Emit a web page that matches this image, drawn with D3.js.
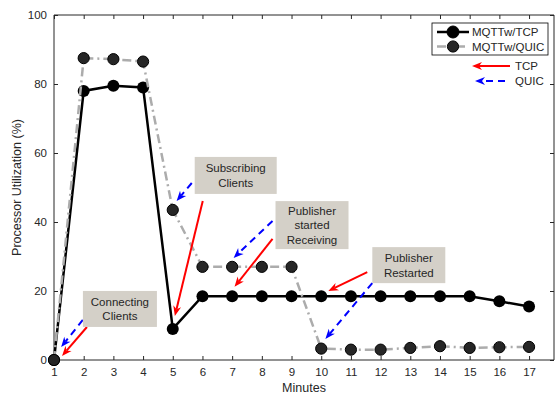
<!DOCTYPE html>
<html><head><meta charset="utf-8">
<script src="https://cdn.jsdelivr.net/npm/d3@7"></script>
<style>body{margin:0;background:#fff}svg{display:block}text{font-family:"Liberation Sans",Arial,sans-serif;fill:#262626}</style>
</head><body><svg id="c" width="557" height="396"></svg>
<script>
const minutes = [1,2,3,4,5,6,7,8,9,10,11,12,13,14,15,16,17];
const tcp  = [0,78,79.5,79,9,18.5,18.5,18.5,18.5,18.5,18.5,18.5,18.5,18.5,18.5,17,15.5];
const quic = [0,87.5,87.2,86.5,43.5,27,27,27,27,3.3,3,3,3.5,4,3.5,3.7,3.8];
const yTicks = [0,20,40,60,80,100];
const seriesNames = ["MQTTw/TCP","MQTTw/QUIC"];
// annotations: label lines, box centre in data units
const notes = [
  {lines:["Connecting","Clients"], x:3.22, y:14.8, w:74, h:36},
  {lines:["Subscribing","Clients"], x:7.12, y:53.5, w:82, h:37},
  {lines:["Publisher","started","Receiving"], x:9.69, y:39.1, w:73, h:48},
  {lines:["Publisher","Restarted"], x:12.95, y:27.5, w:73, h:36}
];
// arrows in data units: [x1,y1,x2,y2]
const tcpArrows = [[2.11,9.57,1.27,1.16],[6.01,46.1,5.07,12.75],[8.36,35.1,7.08,21.2],[11.55,25.5,10.24,20.0]];
const quicArrows = [[1.97,11.6,1.24,3.77],[5.64,51.3,5.13,46.1],[8.36,40.3,7.05,29.6],[11.72,22.3,10.14,6.1]];

const svg = d3.select("#c");
const L=54,R=554,T=15,B=360;
const x = d3.scaleLinear().domain([1,17.84]).range([L,R]);
const y = d3.scaleLinear().domain([0,100]).range([B,T]);
const axc="#262626";

// axes
const gx = svg.append("g").attr("transform",`translate(0,${B})`)
  .call(d3.axisBottom(x).tickValues(minutes).tickFormat(d3.format("d")).tickSizeInner(-4).tickSizeOuter(0).tickPadding(8));
const gxt = svg.append("g").attr("transform",`translate(0,${T})`)
  .call(d3.axisTop(x).tickValues(minutes).tickFormat("").tickSizeInner(-4).tickSizeOuter(0));
const gy = svg.append("g").attr("transform",`translate(${L},0)`)
  .call(d3.axisLeft(y).tickValues(yTicks).tickSizeInner(-4).tickSizeOuter(0).tickPadding(7));
const gyr = svg.append("g").attr("transform",`translate(${R},0)`)
  .call(d3.axisRight(y).tickValues(yTicks).tickFormat("").tickSizeInner(-4).tickSizeOuter(0));
[gx,gxt,gy,gyr].forEach(g=>{
  g.select(".domain").attr("stroke",axc).attr("stroke-width",1);
  g.selectAll(".tick line").attr("stroke",axc).attr("stroke-width",1);
  g.selectAll(".tick text").attr("font-size",11.5).attr("fill",axc).style("font-family",'"Liberation Sans",Arial,sans-serif');
});
gx.select(".domain").attr("d",`M${L},0H${R}`);
gxt.select(".domain").attr("d",`M${L},0H${R}`);
gy.select(".domain").attr("d",`M0,${B}V${T}`);
gyr.select(".domain").attr("d",`M0,${B}V${T}`);

svg.append("text").attr("x",(L+R)/2).attr("y",392).attr("text-anchor","middle").attr("font-size",12.5).text("Minutes");
svg.append("text").attr("transform",`translate(21,${(T+B)/2}) rotate(-90)`).attr("text-anchor","middle").attr("font-size",12.5).text("Processor Utilization (%)");

const line = d3.line().x((d,i)=>x(minutes[i])).y(d=>y(d));
// TCP
svg.append("path").datum(tcp).attr("d",line).attr("fill","none").attr("stroke","#000").attr("stroke-width",2.5);
svg.append("g").selectAll("circle").data(tcp).join("circle")
  .attr("cx",(d,i)=>x(minutes[i])).attr("cy",d=>y(d)).attr("r",6).attr("fill","#000");
// QUIC
svg.append("path").datum(quic).attr("d",line).attr("fill","none").attr("stroke","#acacac").attr("stroke-width",2.5).attr("stroke-dasharray","9,4,2,4");
svg.append("g").selectAll("circle").data(quic).join("circle")
  .attr("cx",(d,i)=>x(minutes[i])).attr("cy",d=>y(d)).attr("r",5.6).attr("fill","#262626").attr("stroke","#000").attr("stroke-width",1);

// arrows
function arrow(g,x1,y1,x2,y2,color,dashed){
  const dx=x2-x1, dy=y2-y1, len=Math.hypot(dx,dy), ux=dx/len, uy=dy/len;
  const hl=10, hw=4, back=7;
  const bx=x2-ux*hl, by=y2-uy*hl;
  const nx=-uy, ny=ux;
  const mx=x2-ux*back, my=y2-uy*back;
  g.append("line").attr("x1",x1).attr("y1",y1).attr("x2",mx).attr("y2",my)
    .attr("stroke",color).attr("stroke-width",2).attr("stroke-dasharray",dashed?"7,5":null);
  g.append("path").attr("d",`M${x2},${y2}L${bx+nx*hw},${by+ny*hw}L${mx},${my}L${bx-nx*hw},${by-ny*hw}Z`).attr("fill",color);
}
const ga = svg.append("g");
tcpArrows.forEach(a=>arrow(ga,x(a[0]),y(a[1]),x(a[2]),y(a[3]),"#ff0000",false));
quicArrows.forEach(a=>arrow(ga,x(a[0]),y(a[1]),x(a[2]),y(a[3]),"#0000ff",true));

// annotation boxes
notes.forEach(n=>{
  const cx=x(n.x), cy=y(n.y);
  svg.append("rect").attr("x",cx-n.w/2).attr("y",cy-n.h/2).attr("width",n.w).attr("height",n.h).attr("fill","#d4d0c8");
  const lh=14.5, y0=cy-(n.lines.length-1)*lh/2;
  n.lines.forEach((t,i)=>svg.append("text").attr("x",cx).attr("y",y0+i*lh).attr("dy","0.36em")
    .attr("text-anchor","middle").attr("font-size",11.5).attr("fill","#222").text(t));
});

// legend
const lg = svg.append("g");
lg.append("rect").attr("x",432).attr("y",23).attr("width",116).attr("height",32).attr("fill","#fff").attr("stroke","#000").attr("stroke-width",0.8);
[0,1].forEach(i=>{
  const ly=32+i*14.5;
  lg.append("line").attr("x1",437).attr("x2",469).attr("y1",ly).attr("y2",ly)
    .attr("stroke",i?"#acacac":"#000").attr("stroke-width",2.5).attr("stroke-dasharray",i?"9,4,2,4":null);
  lg.append("circle").attr("cx",453).attr("cy",ly).attr("r",i?5.6:6).attr("fill",i?"#262626":"#000").attr("stroke","#000");
  lg.append("text").attr("x",472).attr("y",ly).attr("dy","0.36em").attr("font-size",11.5).attr("fill","#111").text(seriesNames[i]);
});
arrow(lg,510,66,472,66,"#ff0000",false);
arrow(lg,505,81,475,81,"#0000ff",true);
lg.append("text").attr("x",515).attr("y",66).attr("dy","0.36em").attr("font-size",11.5).attr("fill","#111").text("TCP");
lg.append("text").attr("x",515).attr("y",81).attr("dy","0.36em").attr("font-size",11.5).attr("fill","#111").text("QUIC");
</script></body></html>
